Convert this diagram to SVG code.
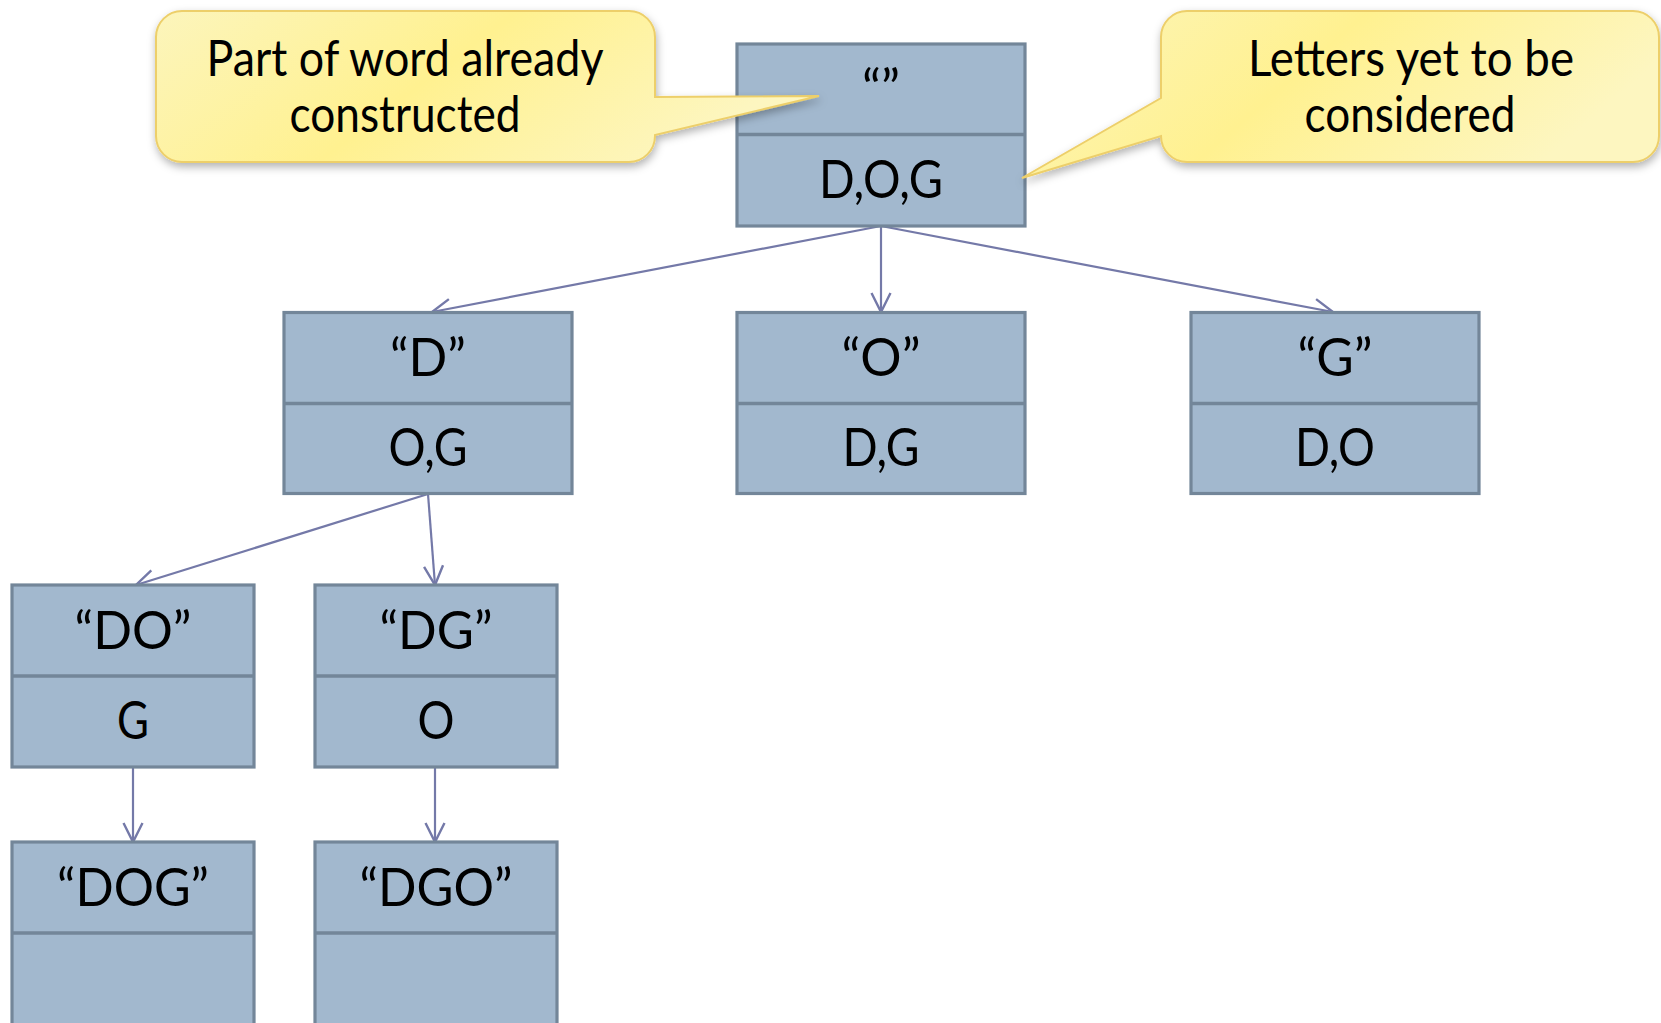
<svg xmlns="http://www.w3.org/2000/svg" width="1661" height="1023" viewBox="0 0 1661 1023">
<defs>
<style>
.box{fill:#A2B8CE;stroke:#738699;stroke-width:3.2}
.div{stroke:#738699;stroke-width:3.5}
.t{font-family:Lato,"Open Sans","Liberation Sans",sans-serif;font-size:52px;fill:#000;text-anchor:middle}
.ct{font-family:Lato,"Open Sans","Liberation Sans",sans-serif;font-size:50px;fill:#000;text-anchor:middle}
.edge{stroke:#7479A8;stroke-width:2.2;fill:none;marker-end:url(#arr)}
.call{fill:url(#yg);stroke:#EDCF6A;stroke-width:2;filter:url(#sh)}
</style>
<linearGradient id="yg" x1="0" y1="0" x2="1" y2="0.3">
<stop offset="0" stop-color="#FCF5BC"/>
<stop offset="0.5" stop-color="#FFF190"/>
<stop offset="1" stop-color="#FDF6C0"/>
</linearGradient>
<filter id="sh" x="-10%" y="-20%" width="120%" height="150%">
<feDropShadow dx="1" dy="4" stdDeviation="4" flood-color="#000" flood-opacity="0.3"/>
</filter>
<marker id="arr" markerUnits="userSpaceOnUse" markerWidth="26" markerHeight="26" viewBox="0 0 26 26" refX="21" refY="13" orient="auto">
<path d="M2,3.5 L21,13 L2,22.5" fill="none" stroke="#7479A8" stroke-width="2.4"/>
</marker>
</defs>
<rect width="1661" height="1023" fill="#fff"/>

<g id="connectors">
<line class="edge" x1="881" y1="226" x2="432" y2="312"/>
<line class="edge" x1="881" y1="226" x2="881" y2="312"/>
<line class="edge" x1="881" y1="226" x2="1333" y2="312"/>
<line class="edge" x1="428" y1="494" x2="136" y2="585"/>
<line class="edge" x1="428" y1="494" x2="435" y2="585"/>
<line class="edge" x1="133" y1="767" x2="133" y2="842"/>
<line class="edge" x1="435" y1="767" x2="435" y2="842"/>
</g>

<g id="node-root">
<rect class="box" x="737" y="44" width="288" height="182"/>
<line class="div" x1="737" y1="134.5" x2="1025" y2="134.5"/>
<text class="t" x="881" y="107" textLength="38" lengthAdjust="spacingAndGlyphs">“”</text>
<text class="t" x="881" y="198" textLength="124" lengthAdjust="spacingAndGlyphs">D,O,G</text>
</g>
<g id="node-D">
<rect class="box" x="284" y="312.5" width="288" height="181"/>
<line class="div" x1="284" y1="403.5" x2="572" y2="403.5"/>
<text class="t" x="428" y="376" textLength="76" lengthAdjust="spacingAndGlyphs">“D”</text>
<text class="t" x="428" y="466" textLength="79" lengthAdjust="spacingAndGlyphs">O,G</text>
</g>
<g id="node-O">
<rect class="box" x="737" y="312.5" width="288" height="181"/>
<line class="div" x1="737" y1="403.5" x2="1025" y2="403.5"/>
<text class="t" x="881" y="376" textLength="79" lengthAdjust="spacingAndGlyphs">“O”</text>
<text class="t" x="881" y="466" textLength="77" lengthAdjust="spacingAndGlyphs">D,G</text>
</g>
<g id="node-G">
<rect class="box" x="1191" y="312.5" width="288" height="181"/>
<line class="div" x1="1191" y1="403.5" x2="1479" y2="403.5"/>
<text class="t" x="1335" y="376" textLength="75" lengthAdjust="spacingAndGlyphs">“G”</text>
<text class="t" x="1335" y="466" textLength="80" lengthAdjust="spacingAndGlyphs">D,O</text>
</g>
<g id="node-DO">
<rect class="box" x="12" y="585" width="242" height="182"/>
<line class="div" x1="12" y1="676" x2="254" y2="676"/>
<text class="t" x="133" y="649" textLength="117" lengthAdjust="spacingAndGlyphs">“DO”</text>
<text class="t" x="133" y="739" textLength="32" lengthAdjust="spacingAndGlyphs">G</text>
</g>
<g id="node-DG">
<rect class="box" x="315" y="585" width="242" height="182"/>
<line class="div" x1="315" y1="676" x2="557" y2="676"/>
<text class="t" x="436" y="649" textLength="113" lengthAdjust="spacingAndGlyphs">“DG”</text>
<text class="t" x="436" y="739" textLength="37" lengthAdjust="spacingAndGlyphs">O</text>
</g>
<g id="node-DOG">
<rect class="box" x="12" y="842" width="242" height="200"/>
<line class="div" x1="12" y1="933" x2="254" y2="933"/>
<text class="t" x="133" y="906" textLength="152" lengthAdjust="spacingAndGlyphs">“DOG”</text>
</g>
<g id="node-DGO">
<rect class="box" x="315" y="842" width="242" height="200"/>
<line class="div" x1="315" y1="933" x2="557" y2="933"/>
<text class="t" x="436" y="906" textLength="153" lengthAdjust="spacingAndGlyphs">“DGO”</text>
</g>

<g id="callout-left">
<path class="call" d="M182,11 H629 A26,26 0 0 1 655,37 V97 L819,96 L655,135 V136 A26,26 0 0 1 629,162 H182 A26,26 0 0 1 156,136 V37 A26,26 0 0 1 182,11 Z"/>
<text class="ct" x="405" y="76" textLength="397" lengthAdjust="spacingAndGlyphs">Part of word already</text>
<text class="ct" x="405" y="132" textLength="231" lengthAdjust="spacingAndGlyphs">constructed</text>
</g>
<g id="callout-right">
<path class="call" d="M1187,11 H1633 A26,26 0 0 1 1659,37 V136 A26,26 0 0 1 1633,162 H1187 A26,26 0 0 1 1161,136 L1022,178 L1161,98 V37 A26,26 0 0 1 1187,11 Z"/>
<text class="ct" x="1411" y="76" textLength="326" lengthAdjust="spacingAndGlyphs">Letters yet to be</text>
<text class="ct" x="1410" y="132" textLength="211" lengthAdjust="spacingAndGlyphs">considered</text>
</g>
</svg>
